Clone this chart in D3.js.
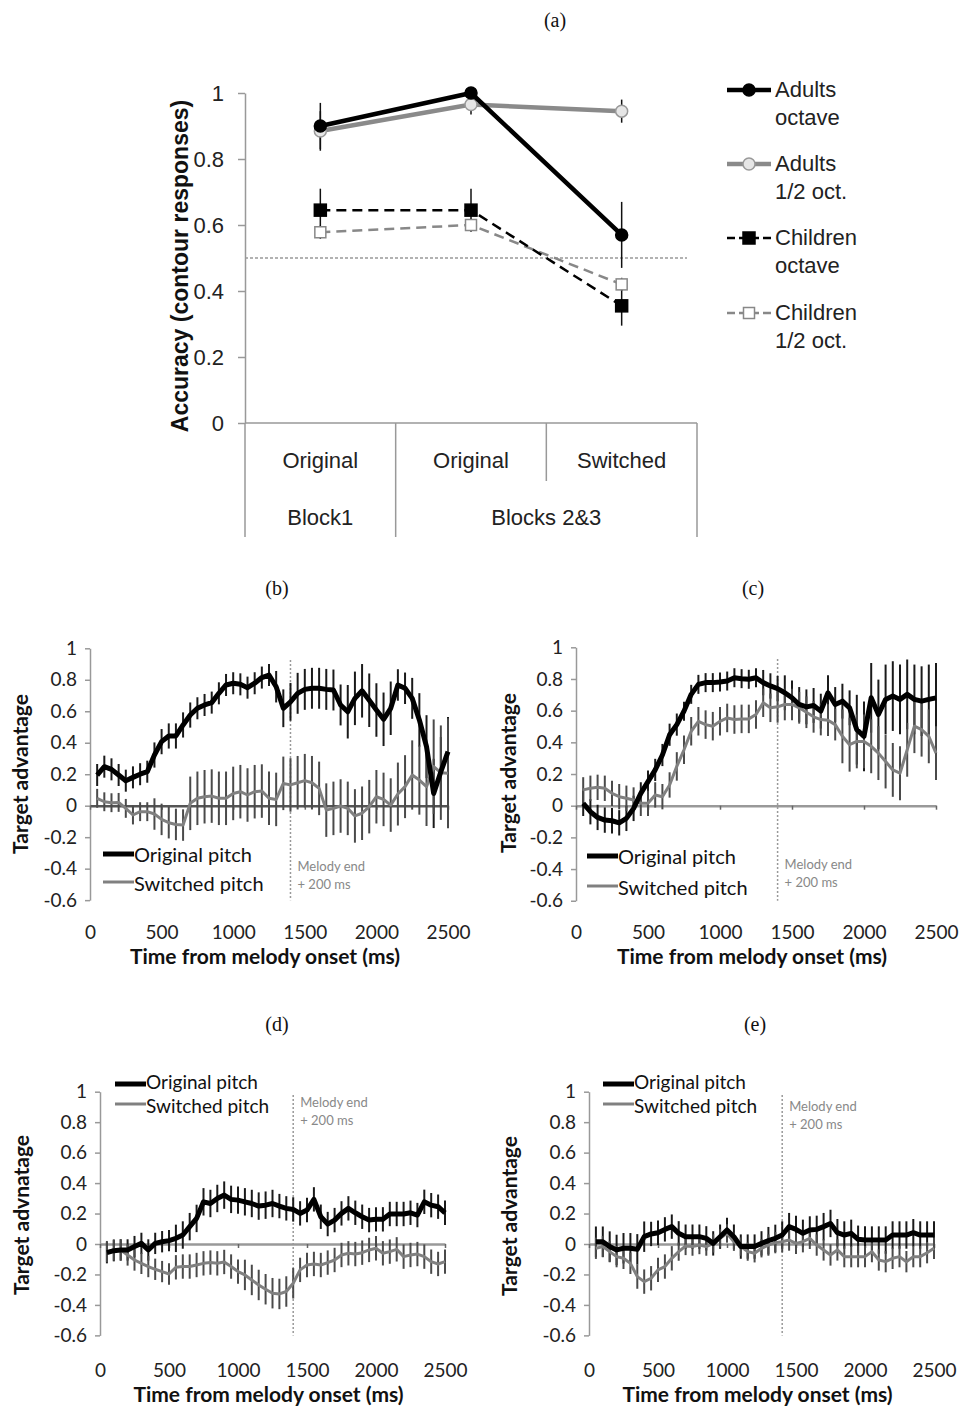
<!DOCTYPE html>
<html>
<head>
<meta charset="utf-8">
<script src="https://cdnjs.cloudflare.com/ajax/libs/d3/7.8.5/d3.min.js"></script>
<style>
  body { margin: 0; background: #fff; }
  svg { display: block; }
</style>
</head>
<body>
<div id="chart"></div>
<script>
// ---------- panel (a) data ----------
const conditions = ['Original', 'Original', 'Switched'];
const blocks = [['Block1', 0, 0], ['Blocks 2&3', 1, 2]];
const accTicks = [0, 0.2, 0.4, 0.6, 0.8, 1];
const accTickLabels = ['0', '0.2', '0.4', '0.6', '0.8', '1'];
const adultsOct = [0.90, 1.00, 0.57];
const adultsOctErr = [0.07, 0.01, 0.10];
const adultsHalf = [0.885, 0.965, 0.945];
const adultsHalfErr = [0.06, 0.03, 0.035];
const childOct = [0.645, 0.645, 0.355];
const childOctErr = [0.065, 0.065, 0.06];
const childHalf = [0.578, 0.60, 0.42];
const childHalfErr = [0.02, 0.02, 0.02];
const chance = 0.5;

// ---------- panels (b)-(e) data ----------
const times = [50, 100, 150, 200, 250, 300, 350, 400, 450, 500, 550, 600, 650, 700, 750, 800, 850, 900, 950, 1000,
  1050, 1100, 1150, 1200, 1250, 1300, 1350, 1400, 1450, 1500, 1550, 1600, 1650, 1700, 1750, 1800, 1850, 1900, 1950, 2000,
  2050, 2100, 2150, 2200, 2250, 2300, 2350, 2400, 2450, 2500];
const timeTicks = [0, 500, 1000, 1500, 2000, 2500];
const timeTickLabels = ['0', '500', '1000', '1500', '2000', '2500'];
const advTicks = [-0.6, -0.4, -0.2, 0, 0.2, 0.4, 0.6, 0.8, 1];
const advTickLabels = ['-0.6', '-0.4', '-0.2', '0', '0.2', '0.4', '0.6', '0.8', '1'];
const melodyEnd = 1400;

const bOrig = [0.195, 0.248, 0.231, 0.195, 0.159, 0.18, 0.2, 0.216, 0.322, 0.407, 0.443, 0.443, 0.513, 0.576, 0.619, 0.64, 0.655, 0.714, 0.767, 0.778, 0.771, 0.75, 0.778, 0.814, 0.83,
  0.756, 0.619, 0.66, 0.714, 0.739, 0.746, 0.746, 0.739, 0.735, 0.64, 0.597, 0.682, 0.73, 0.67, 0.608, 0.549, 0.619, 0.767, 0.746, 0.682, 0.545, 0.375, 0.078, 0.216, 0.343];
const bOrigErr = [0.07, 0.07, 0.07, 0.07, 0.07, 0.07, 0.07, 0.07, 0.08, 0.08, 0.08, 0.08, 0.08, 0.08, 0.07, 0.07, 0.07, 0.07, 0.07, 0.07, 0.07, 0.07, 0.07, 0.07, 0.07,
  0.1, 0.12, 0.12, 0.13, 0.13, 0.13, 0.13, 0.13, 0.13, 0.13, 0.17, 0.17, 0.17, 0.17, 0.17, 0.17, 0.17, 0.1, 0.1, 0.13, 0.17, 0.2, 0.22, 0.22, 0.22];
const bSwitch = [0.047, 0.025, 0.019, 0.021, -0.017, -0.059, -0.038, -0.038, -0.053, -0.087, -0.108, -0.119, -0.123, 0.015, 0.047, 0.057, 0.061, 0.047, 0.047, 0.078, 0.089, 0.068, 0.089, 0.093, 0.047,
  0.04, 0.142, 0.132, 0.146, 0.159, 0.146, 0.11, -0.028, -0.017, -0.002, -0.017, -0.065, -0.048, -0.006, 0.057, 0.04, 0.004, 0.074, 0.121, 0.195, 0.163, 0.121, 0.248, 0.21, 0.206];
const bSwitchErr = [0.06, 0.06, 0.06, 0.06, 0.06, 0.06, 0.06, 0.06, 0.1, 0.1, 0.1, 0.1, 0.1, 0.17, 0.17, 0.17, 0.17, 0.17, 0.17, 0.17, 0.17, 0.17, 0.17, 0.17, 0.17,
  0.17, 0.17, 0.17, 0.17, 0.17, 0.17, 0.17, 0.17, 0.17, 0.17, 0.17, 0.17, 0.17, 0.17, 0.17, 0.17, 0.17, 0.2, 0.2, 0.22, 0.22, 0.25, 0.3, 0.3, 0.35];

const cOrig = [0.015, -0.038, -0.074, -0.091, -0.095, -0.108, -0.08, -0.017, 0.078, 0.152, 0.226, 0.32, 0.448, 0.512, 0.597, 0.703, 0.766, 0.777, 0.777, 0.781, 0.787, 0.808, 0.802, 0.798, 0.808,
  0.777, 0.756, 0.739, 0.713, 0.681, 0.639, 0.624, 0.633, 0.597, 0.713, 0.639, 0.66, 0.618, 0.48, 0.438, 0.681, 0.576, 0.671, 0.692, 0.671, 0.703, 0.671, 0.66, 0.671, 0.681];
const cOrigErr = [0.08, 0.08, 0.08, 0.08, 0.08, 0.08, 0.08, 0.08, 0.07, 0.07, 0.07, 0.07, 0.07, 0.07, 0.06, 0.06, 0.06, 0.06, 0.06, 0.06, 0.06, 0.06, 0.06, 0.06, 0.06,
  0.08, 0.08, 0.08, 0.11, 0.11, 0.11, 0.11, 0.11, 0.11, 0.11, 0.11, 0.11, 0.11, 0.22, 0.22, 0.22, 0.22, 0.22, 0.22, 0.22, 0.22, 0.22, 0.22, 0.22, 0.22];
const cSwitch = [0.1, 0.11, 0.116, 0.11, 0.078, 0.057, 0.047, 0.036, 0.015, 0.015, 0.068, 0.057, 0.131, 0.248, 0.353, 0.47, 0.533, 0.512, 0.502, 0.533, 0.554, 0.544, 0.548, 0.548, 0.576,
  0.65, 0.618, 0.624, 0.639, 0.639, 0.618, 0.59, 0.561, 0.544, 0.54, 0.512, 0.438, 0.385, 0.406, 0.406, 0.375, 0.332, 0.279, 0.226, 0.205, 0.353, 0.502, 0.48, 0.438, 0.332];
const cSwitchErr = [0.08, 0.08, 0.08, 0.08, 0.08, 0.08, 0.08, 0.08, 0.08, 0.08, 0.08, 0.08, 0.08, 0.09, 0.09, 0.09, 0.09, 0.09, 0.09, 0.09, 0.09, 0.09, 0.09, 0.09, 0.09,
  0.09, 0.09, 0.1, 0.1, 0.1, 0.1, 0.1, 0.1, 0.1, 0.1, 0.1, 0.17, 0.17, 0.17, 0.17, 0.17, 0.17, 0.17, 0.17, 0.17, 0.17, 0.17, 0.17, 0.17, 0.17];

const dOrig = [-0.057, -0.044, -0.039, -0.039, -0.017, 0.004, -0.039, 0.004, 0.015, 0.022, 0.037, 0.059, 0.114, 0.168, 0.277, 0.266, 0.299, 0.321, 0.293, 0.288, 0.277, 0.266, 0.249, 0.255, 0.266,
  0.249, 0.234, 0.227, 0.201, 0.223, 0.293, 0.179, 0.131, 0.157, 0.201, 0.234, 0.205, 0.179, 0.157, 0.162, 0.162, 0.197, 0.197, 0.197, 0.205, 0.19, 0.277, 0.255, 0.245, 0.205];
const dOrigErr = [0.07, 0.07, 0.07, 0.07, 0.07, 0.07, 0.07, 0.07, 0.07, 0.07, 0.09, 0.09, 0.09, 0.09, 0.09, 0.09, 0.09, 0.09, 0.09, 0.09, 0.09, 0.09, 0.09, 0.09, 0.09,
  0.08, 0.08, 0.08, 0.08, 0.08, 0.08, 0.08, 0.08, 0.08, 0.08, 0.08, 0.08, 0.08, 0.08, 0.08, 0.08, 0.08, 0.08, 0.08, 0.08, 0.08, 0.08, 0.08, 0.08, 0.08];
const dSwitch = [-0.05, -0.039, -0.039, -0.072, -0.105, -0.127, -0.148, -0.166, -0.181, -0.197, -0.153, -0.148, -0.148, -0.138, -0.127, -0.122, -0.127, -0.118, -0.148, -0.181, -0.203, -0.236, -0.269, -0.297, -0.323,
  -0.328, -0.312, -0.258, -0.17, -0.138, -0.131, -0.138, -0.122, -0.105, -0.072, -0.061, -0.066, -0.057, -0.039, -0.028, -0.061, -0.05, -0.035, -0.083, -0.072, -0.066, -0.083, -0.116, -0.131, -0.116];
const dSwitchErr = [0.07, 0.07, 0.07, 0.07, 0.07, 0.07, 0.07, 0.07, 0.07, 0.07, 0.08, 0.08, 0.08, 0.08, 0.08, 0.08, 0.08, 0.08, 0.08, 0.08, 0.1, 0.1, 0.1, 0.1, 0.1,
  0.1, 0.1, 0.1, 0.08, 0.08, 0.08, 0.08, 0.08, 0.08, 0.08, 0.08, 0.08, 0.08, 0.08, 0.08, 0.08, 0.08, 0.08, 0.08, 0.08, 0.08, 0.08, 0.08, 0.08, 0.08];

const eOrig = [0.015, 0.015, -0.017, -0.039, -0.028, -0.028, -0.035, 0.048, 0.066, 0.074, 0.096, 0.114, 0.07, 0.048, 0.048, 0.048, 0.037, 0.004, 0.048, 0.092, 0.048, -0.017, -0.017, -0.017, 0.004,
  0.022, 0.037, 0.059, 0.114, 0.096, 0.07, 0.092, 0.096, 0.114, 0.135, 0.074, 0.059, 0.07, 0.031, 0.026, 0.026, 0.026, 0.026, 0.059, 0.059, 0.059, 0.074, 0.059, 0.059, 0.059];
const eOrigErr = [0.1, 0.1, 0.1, 0.1, 0.1, 0.1, 0.1, 0.1, 0.08, 0.08, 0.08, 0.08, 0.08, 0.08, 0.08, 0.08, 0.08, 0.08, 0.08, 0.08, 0.08, 0.08, 0.08, 0.08, 0.08,
  0.09, 0.09, 0.09, 0.09, 0.09, 0.09, 0.09, 0.09, 0.09, 0.09, 0.09, 0.09, 0.09, 0.09, 0.09, 0.09, 0.09, 0.09, 0.09, 0.09, 0.09, 0.09, 0.09, 0.09, 0.09];
const eSwitch = [-0.028, -0.017, -0.05, -0.083, -0.094, -0.127, -0.214, -0.247, -0.225, -0.17, -0.148, -0.094, -0.05, -0.013, -0.017, -0.007, -0.017, 0.004, 0.037, 0.07, 0.015, -0.017, -0.05, -0.061, -0.028,
  -0.007, 0.009, 0.015, 0.026, 0.004, 0.015, 0.037, -0.007, -0.039, -0.072, -0.039, -0.083, -0.083, -0.083, -0.083, -0.05, -0.105, -0.116, -0.094, -0.083, -0.116, -0.083, -0.083, -0.057, -0.028];
const eSwitchErr = [0.07, 0.07, 0.07, 0.07, 0.07, 0.07, 0.08, 0.08, 0.08, 0.08, 0.08, 0.08, 0.06, 0.06, 0.06, 0.06, 0.06, 0.06, 0.06, 0.06, 0.06, 0.06, 0.06, 0.06, 0.06,
  0.07, 0.07, 0.07, 0.07, 0.07, 0.07, 0.07, 0.07, 0.07, 0.07, 0.07, 0.07, 0.07, 0.07, 0.07, 0.07, 0.07, 0.07, 0.07, 0.07, 0.07, 0.07, 0.07, 0.07, 0.07];

const W = 961, H = 1410;
const serif = "'Liberation Serif', 'Times New Roman', serif";
const arial = "'Liberation Sans', Arial, sans-serif";
const cal = "Lato, 'Open Sans', sans-serif";

const svg = d3.select('#chart').append('svg')
    .attr('width', W)
    .attr('height', H)
    .attr('viewBox', `0 0 ${W} ${H}`);

svg.append('rect').attr('width', W).attr('height', H).attr('fill', '#fff');

// panel letters
[['(a)', 555, 27], ['(b)', 277, 595], ['(c)', 753, 595], ['(d)', 277, 1031], ['(e)', 755, 1031]].forEach(t => {
    svg.append('text')
        .attr('x', t[1]).attr('y', t[2])
        .attr('text-anchor', 'middle')
        .attr('font-family', serif)
        .attr('font-size', 20)
        .attr('fill', '#111')
        .text(t[0]);
});

// ================= panel (a) =================
function drawAccuracy() {
    const g = svg.append('g');
    const xA = d3.scaleBand().domain([0, 1, 2]).range([245, 697]);
    const yA = d3.scaleLinear().domain([0, 1]).range([423, 93]);
    const cx = i => xA(i) + xA.bandwidth() / 2;

    const yAxis = d3.axisLeft(yA)
        .tickValues(accTicks)
        .tickFormat((d, i) => accTickLabels[i])
        .tickSize(7)
        .tickSizeOuter(0)
        .tickPadding(14);
    const ax = g.append('g').attr('transform', 'translate(245,0)').call(yAxis);
    ax.select('.domain').attr('stroke', '#999').attr('stroke-width', 1.5);
    ax.selectAll('.tick line').attr('stroke', '#999').attr('stroke-width', 1.5);
    ax.selectAll('.tick text').attr('font-family', arial).attr('font-size', 22).attr('fill', '#222');

    // category table under the axis
    const tbl = g.append('g').attr('stroke', '#999').attr('stroke-width', 1.5);
    tbl.append('line').attr('x1', 245).attr('x2', 697).attr('y1', yA(0)).attr('y2', yA(0));
    tbl.append('line').attr('x1', 245).attr('x2', 245).attr('y1', yA(0)).attr('y2', 537);
    tbl.append('line').attr('x1', xA(1)).attr('x2', xA(1)).attr('y1', yA(0)).attr('y2', 537);
    tbl.append('line').attr('x1', xA(2)).attr('x2', xA(2)).attr('y1', yA(0)).attr('y2', 481);
    tbl.append('line').attr('x1', 697).attr('x2', 697).attr('y1', yA(0)).attr('y2', 537);

    conditions.forEach((c, i) => {
        g.append('text').attr('x', cx(i)).attr('y', 468)
            .attr('text-anchor', 'middle').attr('font-family', arial).attr('font-size', 22).attr('fill', '#222')
            .text(c);
    });
    blocks.forEach(b => {
        g.append('text').attr('x', (xA(b[1]) + xA(b[2]) + xA.bandwidth()) / 2).attr('y', 525)
            .attr('text-anchor', 'middle').attr('font-family', arial).attr('font-size', 22).attr('fill', '#222')
            .text(b[0]);
    });

    g.append('text')
        .attr('transform', 'rotate(-90)')
        .attr('x', -266).attr('y', 188)
        .attr('text-anchor', 'middle')
        .attr('font-family', arial).attr('font-size', 23).attr('font-weight', 'bold').attr('fill', '#111')
        .text('Accuracy (contour responses)');

    // chance line
    g.append('line')
        .attr('x1', 245).attr('x2', 687).attr('y1', yA(chance)).attr('y2', yA(chance))
        .attr('stroke', '#999').attr('stroke-width', 1.5).attr('stroke-dasharray', '3,2');

    const line = d3.line().x((d, i) => cx(i)).y(d => yA(d));
    const series = [
        { v: childHalf, e: childHalfErr, color: '#888', width: 2.5, dash: '10,6', marker: 'sq', fill: '#fff' },
        { v: childOct, e: childOctErr, color: '#000', width: 2.5, dash: '10,6', marker: 'sq', fill: '#000' },
        { v: adultsHalf, e: adultsHalfErr, color: '#8a8a8a', width: 4.5, dash: null, marker: 'ci', fill: '#fff' },
        { v: adultsOct, e: adultsOctErr, color: '#000', width: 4.5, dash: null, marker: 'ci', fill: '#000' }
    ];
    series.forEach(s => {
        g.append('g').selectAll('line').data(s.v).enter().append('line')
            .attr('x1', (d, i) => cx(i)).attr('x2', (d, i) => cx(i))
            .attr('y1', (d, i) => yA(d - s.e[i])).attr('y2', (d, i) => yA(d + s.e[i]))
            .attr('stroke', '#111').attr('stroke-width', 1.5);
    });
    series.forEach(s => {
        g.append('path').datum(s.v).attr('d', line)
            .attr('fill', 'none').attr('stroke', s.color).attr('stroke-width', s.width)
            .attr('stroke-dasharray', s.dash);
        const m = g.append('g').selectAll('.m').data(s.v).enter();
        if (s.marker === 'sq') {
            const sz = s.fill === '#000' ? 12 : 11;
            m.append('rect')
                .attr('x', (d, i) => cx(i) - sz / 2).attr('y', d => yA(d) - sz / 2)
                .attr('width', sz).attr('height', sz)
                .attr('fill', s.fill).attr('stroke', s.color).attr('stroke-width', 1.5);
        } else {
            m.append('circle')
                .attr('cx', (d, i) => cx(i)).attr('cy', d => yA(d)).attr('r', 6)
                .attr('fill', s.fill === '#fff' ? '#e6e6e6' : '#000')
                .attr('stroke', s.fill === '#fff' ? '#999' : '#000').attr('stroke-width', 1.5);
        }
    });

    // legend
    const legend = [
        { l1: 'Adults', l2: 'octave', s: series[3], y: 90 },
        { l1: 'Adults', l2: '1/2 oct.', s: series[2], y: 164 },
        { l1: 'Children', l2: 'octave', s: series[1], y: 238 },
        { l1: 'Children', l2: '1/2 oct.', s: series[0], y: 313 }
    ];
    legend.forEach(it => {
        const lg = g.append('g');
        lg.append('line').attr('x1', 727).attr('x2', 771).attr('y1', it.y).attr('y2', it.y)
            .attr('stroke', it.s.color).attr('stroke-width', it.s.width)
            .attr('stroke-dasharray', it.s.dash ? '8,4' : null);
        if (it.s.marker === 'sq') {
            const sz = it.s.fill === '#000' ? 12 : 11;
            lg.append('rect').attr('x', 749 - sz / 2).attr('y', it.y - sz / 2).attr('width', sz).attr('height', sz)
                .attr('fill', it.s.fill).attr('stroke', it.s.color).attr('stroke-width', 1.5);
        } else {
            lg.append('circle').attr('cx', 749).attr('cy', it.y).attr('r', 6)
                .attr('fill', it.s.fill === '#fff' ? '#e6e6e6' : '#000')
                .attr('stroke', it.s.fill === '#fff' ? '#999' : '#000').attr('stroke-width', 1.5);
        }
        lg.append('text').attr('x', 775).attr('y', it.y + 7)
            .attr('font-family', arial).attr('font-size', 22).attr('fill', '#222').text(it.l1);
        lg.append('text').attr('x', 775).attr('y', it.y + 35)
            .attr('font-family', arial).attr('font-size', 22).attr('fill', '#222').text(it.l2);
    });
}

// ================= panels (b)-(e) =================
function drawTime(p) {
    const g = svg.append('g');
    const x = d3.scaleLinear().domain([0, 2500]).range([p.x0, p.x1]);
    const y = d3.scaleLinear().domain([-0.6, 1]).range([p.yZero + 0.6 * p.unit, p.yZero - p.unit]);

    // y axis
    const ax = g.append('g').attr('transform', `translate(${p.x0},0)`)
        .call(d3.axisLeft(y).tickValues(advTicks).tickFormat((d, i) => advTickLabels[i])
            .tickSize(5).tickSizeOuter(0).tickPadding(8));
    ax.select('.domain').attr('stroke', '#999').attr('stroke-width', 1.5);
    ax.selectAll('.tick line').attr('stroke', '#999').attr('stroke-width', 1.5);
    ax.selectAll('.tick text').attr('font-family', cal).attr('font-size', 19).attr('fill', '#222');

    // zero line with ticks
    const zx = g.append('g').attr('transform', `translate(0,${y(0)})`)
        .call(d3.axisBottom(x).tickValues(timeTicks).tickFormat('').tickSize(4).tickSizeOuter(0));
    zx.select('.domain').attr('stroke', p.zeroColor).attr('stroke-width', 2.5);
    zx.selectAll('.tick line').attr('stroke', '#666').attr('stroke-width', 1.5);

    // x tick labels along the bottom
    const bx = g.append('g').attr('transform', `translate(0,${p.tickY})`)
        .call(d3.axisBottom(x).tickValues(timeTicks).tickFormat((d, i) => timeTickLabels[i]).tickSize(0));
    bx.select('.domain').remove();
    bx.selectAll('.tick text').attr('y', 0).attr('dy', 0)
        .attr('font-family', cal).attr('font-size', 19).attr('fill', '#222');

    g.append('text').attr('x', (p.x0 + p.x1) / 2 - 4).attr('y', p.tickY + 25)
        .attr('text-anchor', 'middle').attr('font-family', cal).attr('font-size', 21)
        .attr('font-weight', 'bold').attr('fill', '#111')
        .text('Time from melody onset (ms)');

    g.append('text').attr('transform', 'rotate(-90)')
        .attr('x', -p.labelY).attr('y', p.labelX)
        .attr('text-anchor', 'middle').attr('font-family', cal).attr('font-size', 21)
        .attr('font-weight', 'bold').attr('fill', '#111')
        .text(p.yLabel);

    // melody end marker
    g.append('line').attr('x1', x(melodyEnd)).attr('x2', x(melodyEnd))
        .attr('y1', p.dotTop).attr('y2', y(-0.6))
        .attr('stroke', '#999').attr('stroke-width', 1.5).attr('stroke-dasharray', '2,2');
    g.append('text').attr('x', x(melodyEnd) + 7).attr('y', p.melY)
        .attr('font-family', cal).attr('font-size', 13).attr('fill', '#888').text('Melody end');
    g.append('text').attr('x', x(melodyEnd) + 7).attr('y', p.melY + 18)
        .attr('font-family', cal).attr('font-size', 13).attr('fill', '#888').text('+ 200 ms');

    const bars = (vals, errs, color) => {
        g.append('g').selectAll('line').data(vals).enter().append('line')
            .attr('x1', (d, i) => x(times[i])).attr('x2', (d, i) => x(times[i]))
            .attr('y1', (d, i) => y(d - errs[i])).attr('y2', (d, i) => y(d + errs[i]))
            .attr('stroke', color).attr('stroke-width', 2);
    };
    bars(p.orig, p.origErr, '#1a1a1a');
    bars(p.sw, p.swErr, '#4a4a4a');

    const line = d3.line().x((d, i) => x(times[i])).y(d => y(d));
    g.append('path').datum(p.sw).attr('d', line)
        .attr('fill', 'none').attr('stroke', '#808080').attr('stroke-width', 3).attr('stroke-linejoin', 'round');
    g.append('path').datum(p.orig).attr('d', line)
        .attr('fill', 'none').attr('stroke', '#000').attr('stroke-width', 5).attr('stroke-linejoin', 'round');

    // legend
    const lx = p.legX, ly = p.legY;
    g.append('line').attr('x1', lx).attr('x2', lx + 31).attr('y1', ly).attr('y2', ly)
        .attr('stroke', '#000').attr('stroke-width', 5);
    g.append('text').attr('x', lx + 31).attr('y', ly + p.txt1)
        .attr('font-family', cal).attr('font-size', p.legFont).attr('fill', '#111').text('Original pitch');
    g.append('line').attr('x1', lx).attr('x2', lx + 31).attr('y1', ly + p.legGap).attr('y2', ly + p.legGap)
        .attr('stroke', '#808080').attr('stroke-width', 3);
    g.append('text').attr('x', lx + 31).attr('y', ly + p.legGap + p.txt2)
        .attr('font-family', cal).attr('font-size', p.legFont).attr('fill', '#111').text('Switched pitch');
}

drawAccuracy();

drawTime({ x0: 90, x1: 448, yZero: 805.7, unit: 157.4, tickY: 939, labelX: 28, labelY: 774,
    yLabel: 'Target advantage', orig: bOrig, origErr: bOrigErr, sw: bSwitch, swErr: bSwitchErr,
    zeroColor: '#555', dotTop: 660, melY: 871, legX: 103, legY: 854, legGap: 28, txt1: 8, txt2: 9, legFont: 20 });
drawTime({ x0: 576, x1: 936, yZero: 805.7, unit: 158.4, tickY: 939, labelX: 516, labelY: 773,
    yLabel: 'Target advantage', orig: cOrig, origErr: cOrigErr, sw: cSwitch, swErr: cSwitchErr,
    zeroColor: '#999', dotTop: 659, melY: 869, legX: 587, legY: 856, legGap: 30, txt1: 8, txt2: 9, legFont: 20 });
drawTime({ x0: 100, x1: 445, yZero: 1244, unit: 152.3, tickY: 1377, labelX: 29, labelY: 1215,
    yLabel: 'Target advnatage', orig: dOrig, origErr: dOrigErr, sw: dSwitch, swErr: dSwitchErr,
    zeroColor: '#999', dotTop: 1095, melY: 1107, legX: 115, legY: 1084, legGap: 20, txt1: 5, txt2: 9, legFont: 19 });
drawTime({ x0: 589, x1: 934, yZero: 1244, unit: 152.3, tickY: 1377, labelX: 517, labelY: 1216,
    yLabel: 'Target advantage', orig: eOrig, origErr: eOrigErr, sw: eSwitch, swErr: eSwitchErr,
    zeroColor: '#999', dotTop: 1095, melY: 1111, legX: 603, legY: 1084, legGap: 20, txt1: 5, txt2: 9, legFont: 19 });
</script>
</body>
</html>
